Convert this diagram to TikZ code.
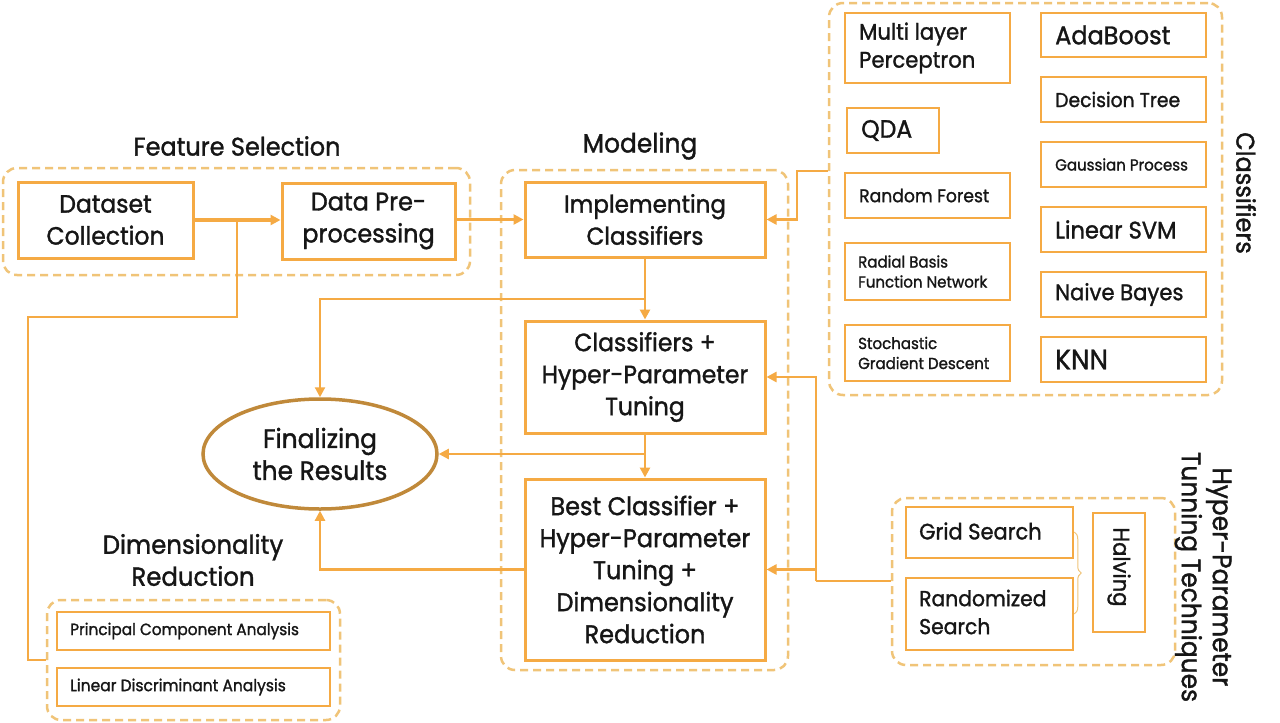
\documentclass[tikz,border=0pt]{standalone}
\usepackage{fontspec}
\setmainfont{Poppins}[FakeStretch=0.94,FakeBold=1.3]
\usetikzlibrary{arrows.meta,shapes.geometric,decorations.pathreplacing}
\definecolor{boxc}{RGB}{245,170,68}
\definecolor{grpc}{RGB}{240,196,120}
\definecolor{ellc}{RGB}{192,137,58}
\definecolor{txtc}{RGB}{22,22,22}
\begin{document}
\begin{tikzpicture}[x=1pt,y=-1pt,
  every node/.style={text=txtc},
  fs/.style={font=\fontsize{#1}{#1}\selectfont},
  fm/.style={font=\fontsize{#1}{32}\selectfont},
  mainbox/.style={draw=boxc,line width=3pt,align=center,inner sep=0pt},
  clbox/.style={draw=boxc,line width=2.5pt,inner sep=0pt},
  lbl/.style={anchor=west,align=left,inner sep=0pt},
  grp/.style={draw=grpc,line width=2.5pt,dash pattern=on 8pt off 5pt,rounded corners=14pt,inner sep=0pt},
  title/.style={align=center,inner sep=0pt,fs=26},
  conn/.style={draw=boxc,line width=2.8pt},
  tip/.style={-{Triangle[length=10pt,width=10pt]}},
  thinconn/.style={draw=boxc,line width=1.4pt}
]
\useasboundingbox (0,0) rectangle (1280,723);
\fill[white] (0,0) rectangle (1280,723);

% groups
\node[grp,minimum width=467pt,minimum height=107pt] (gfeat) at (236.5,221.5) {};
\node[grp,minimum width=287pt,minimum height=500pt] (gmod) at (644.5,420) {};
\node[grp,minimum width=393pt,minimum height=392pt] (gclass) at (1025.5,199) {};
\node[grp,minimum width=283pt,minimum height=167pt] (ghyp) at (1033.5,581.5) {};
\node[grp,minimum width=293pt,minimum height=120pt] (gdim) at (193.5,660) {};

% titles
\node[title,fs=25.5] (tfeat) at (237,146) {Feature Selection};
\node[title,fs=26.5] (tmod) at (640,146) {Modeling};
\node[title,fm=26] (tdim) at (193,560) {Dimensionality\\Reduction};
\node[title,rotate=-90,fs=25.5] (tclass) at (1246,193) {Classifiers};
\node[title,rotate=-90,font=\fontsize{26.5}{31}\selectfont] (thyp) at (1203,577) {Hyper-Parameter\\Tunning Techniques};

% main boxes
\node[mainbox,minimum width=175pt,minimum height=76pt,fm=25] (dc) at (105.5,220) {Dataset\\Collection};
\node[mainbox,minimum width=173pt,minimum height=76pt,fm=25.5] (dp) at (368.5,221) {Data Pre-\\processing};
\node[mainbox,minimum width=240pt,minimum height=75pt,fm=24.5] (impl) at (645,219.5) {Implementing\\Classifiers};
\node[mainbox,minimum width=240pt,minimum height=112pt,fm=25] (chp) at (645,377) {Classifiers +\\Hyper-Parameter\\Tuning};
\node[mainbox,minimum width=240pt,minimum height=181pt,fm=25.5] (bch) at (645,569.5) {Best Classifier +\\Hyper-Parameter\\Tuning +\\Dimensionality\\Reduction};
\node[ellipse,draw=ellc,line width=3.5pt,minimum width=234pt,minimum height=110pt,inner sep=0pt,align=center,fm=26.5] (fin) at (320,454) {Finalizing\\the Results};

% classifier boxes
\node[clbox,minimum width=165pt,minimum height=70pt] (mlp) at (927.5,48) {};
\node[lbl,font=\fontsize{22.5}{28}\selectfont] (mlpt) at (859,48) {Multi layer\\Perceptron};
\node[clbox,minimum width=92pt,minimum height=45pt] (qda) at (893,130.5) {};
\node[lbl,fs=25] (qdat) at (861,130.5) {QDA};
\node[clbox,minimum width=165pt,minimum height=45pt] (rf) at (927.5,195.5) {};
\node[lbl,fs=18.3] (rft) at (859,195.5) {Random Forest};
\node[clbox,minimum width=165pt,minimum height=57pt] (rbf) at (927.5,271.5) {};
\node[lbl,font=\fontsize{16}{20}\selectfont] (rbft) at (858,271.5) {Radial Basis\\Function Network};
\node[clbox,minimum width=165pt,minimum height=56pt] (sgd) at (927.5,353) {};
\node[lbl,font=\fontsize{16}{20}\selectfont] (sgdt) at (858,353) {Stochastic\\Gradient Descent};

\node[clbox,minimum width=165pt,minimum height=44pt] (ada) at (1123.5,35) {};
\node[lbl,fs=25.5] (adat) at (1055,35) {AdaBoost};
\node[clbox,minimum width=165pt,minimum height=45pt] (dt) at (1123.5,99.5) {};
\node[lbl,fs=20] (dtt) at (1055,99.5) {Decision Tree};
\node[clbox,minimum width=165pt,minimum height=45pt] (gp) at (1123.5,164.5) {};
\node[lbl,fs=16] (gpt) at (1055,164.5) {Gaussian Process};
\node[clbox,minimum width=165pt,minimum height=45pt] (lsvm) at (1123.5,229.5) {};
\node[lbl,fs=24] (lsvmt) at (1055,229.5) {Linear SVM};
\node[clbox,minimum width=165pt,minimum height=45pt] (nb) at (1123.5,294.5) {};
\node[lbl,fs=22.5] (nbt) at (1055,294.5) {Naive Bayes};
\node[clbox,minimum width=165pt,minimum height=45pt] (knn) at (1123.5,359.5) {};
\node[lbl,fs=28] (knnt) at (1055,359.5) {KNN};

% hyper-parameter boxes
\node[clbox,minimum width=167pt,minimum height=51pt] (grid) at (989.5,532.5) {};
\node[lbl,fs=22.3] (gridt) at (919,531) {Grid Search};
\node[clbox,minimum width=167pt,minimum height=72pt] (rand) at (989.5,614) {};
\node[lbl,font=\fontsize{21.6}{28}\selectfont] (randt) at (919,612) {Randomized\\Search};
\node[clbox,minimum width=52pt,minimum height=119pt] (halv) at (1119,572.5) {};
\node[rotate=-90,inner sep=0pt,fs=22.5] (halvt) at (1119,567) {Halving};
\coordinate (br1) at (0,532);
\coordinate (br2) at (0,614);
\draw[decorate,decoration={brace,amplitude=7pt},draw=grpc,line width=1pt] (grid.east |- br1) -- (rand.east |- br2);

% dimensionality boxes
\node[clbox,minimum width=273pt,minimum height=38pt] (pca) at (193.5,631) {};
\node[lbl,fs=16.3] (pcat) at (70,631) {Principal Component Analysis};
\node[clbox,minimum width=273pt,minimum height=38pt] (lda) at (193.5,687) {};
\node[lbl,fs=16.5] (ldat) at (70,687) {Linear Discriminant Analysis};

% connectors
\draw[conn,tip,line width=3.2pt] (dc.east) -- (dp.west |- dc.east);
\draw[conn,tip,line width=3.2pt] (dp.east |- impl.west) -- (impl.west);
\coordinate (b1) at (237,220);
\coordinate (b2) at (28,317);
\draw[thinconn] (b1) |- (b2) |- (gdim.west);

\draw[conn,tip] (impl.south) -- (chp.north);
\coordinate (b4) at (645,299);
\draw[conn,tip,line width=2.2pt] (b4) -| (fin.north);
\draw[conn,tip] (chp.south) -- (bch.north);
\coordinate (b5) at (645,454);
\draw[conn,tip,line width=2.2pt] (b5) -- (fin.east);
\draw[conn,tip,line width=2.2pt] (bch.west) -| (fin.south);

\coordinate (k1) at (797,171);
\draw[conn,tip,line width=2.4pt] (gclass.west |- k1) -- (k1) |- (impl.east);

\coordinate (h1) at (816,581);
\draw[conn,line width=2.4pt] (ghyp.west |- h1) -- (h1);
\draw[conn,tip,line width=2.4pt] (h1) |- (chp.east);
\draw[conn,tip,line width=2.4pt] (h1 |- bch.east) -- (bch.east);
\end{tikzpicture}
\end{document}
